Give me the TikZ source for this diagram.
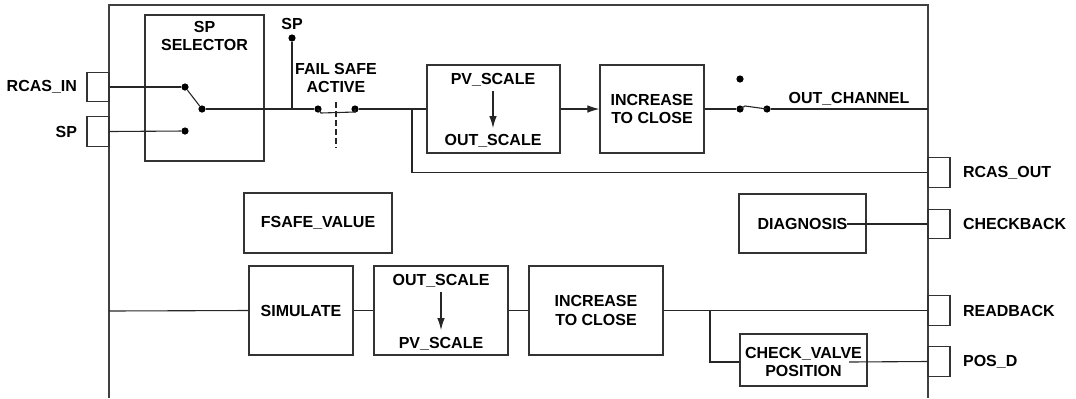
\documentclass[tikz,border=0pt]{standalone}
\usepackage{fontspec}
\setmainfont{Liberation Sans}
\usetikzlibrary{arrows.meta}
\begin{document}
\begin{tikzpicture}[x=0.5pt, y=-0.5pt, font=\fontsize{8}{9.2}\selectfont\bfseries,
	blk/.style={draw=black!80, line width=0.6pt, inner sep=0pt},
	port/.style={draw=black!80, line width=0.6pt, inner sep=0pt, minimum width=11pt, minimum height=14.75pt},
	dot/.style={circle, fill, inner sep=0pt, minimum size=3.6pt},
	wire/.style={draw=black!85, line width=0.55pt},
	tip/.style={-{Latex[length=6pt,width=3.8pt]}}]
	\useasboundingbox (0,0) rectangle (1076,398);
	% block frame
	\draw [black!75, line width=0.6pt] (109,398) -- (109,5) -- (928,5) -- (928,398);
	% ports
	\node[port] (rcasin) at (98,87) {};
	\node[port] (spin) at (98,131.5) {};
	\node[port] (rcasout) at (939,172.5) {};
	\node[port] (chkback) at (939,224) {};
	\node[port] (readback) at (939,310.5) {};
	\node[port] (posd) at (939,361.5) {};
	% boxes
	\node[blk, minimum width=59.5pt, minimum height=73pt] (spsel) at (204.5,88) {};
	\node[blk, minimum width=66.5pt, minimum height=44pt] (pvscale) at (493.5,109) {};
	\node[blk, minimum width=52pt, minimum height=44pt, align=center] (incup) at (652,109) {INCREASE\\TO CLOSE};
	\node[blk, minimum width=74pt, minimum height=30pt] (fsafe) at (318,223) {FSAFE\_VALUE};
	\node[blk, minimum width=63.5pt, minimum height=29.5pt] (diag) at (802.5,223.5) {};
	\node[blk, minimum width=52pt, minimum height=44.5pt] (sim) at (301,310.5) {SIMULATE};
	\node[blk, minimum width=67pt, minimum height=44.5pt] (outscale) at (441,310.5) {};
	\node[blk, minimum width=67pt, minimum height=44.5pt, align=center] (inclow) at (596,310.5) {INCREASE\\TO CLOSE};
	\node[blk, minimum width=63.5pt, minimum height=26pt] (chkvalve) at (803.5,360) {};
	% dots
	\node[dot] (selrcas) at (185,87) {};
	\node[dot] (selsp) at (185,131) {};
	\node[dot] (selout) at (202,109) {};
	\node[dot] (sptop) at (292,38) {};
	\node[dot] (fsa) at (318,109) {};
	\node[dot] (fsb) at (355,109) {};
	\node[dot] (swtop) at (740,79) {};
	\node[dot] (swa) at (740,109) {};
	\node[dot] (swb) at (767,109) {};
	\coordinate (spjoin) at (292,109);
	\coordinate (rcasbr) at (412,109);
	\coordinate (simin) at (109,311);
	\coordinate (posbr) at (710,311);
	\coordinate (diagout) at (847,224);
	\coordinate (cvout) at (849,362);
	% lines
	\draw [wire] (rcasin.east) -- (selrcas);
	\draw [wire] (spin.east) -- (selsp);
	\draw [wire] (selrcas) -- (selout);
	\draw [wire] (selout) -- (fsa);
	\draw [wire] (sptop) -- (spjoin);
	\draw [wire] (fsa.center) -- ++(3,4) -- (355,112) -- (fsb.center);
	\draw [wire, dashed, dash pattern=on 3pt off 1.5pt] (336,102) -- (336,148);
	\draw [wire] (fsb) -- (pvscale.west);
	\draw [wire] (rcasbr) |- (rcasout.west);
	\draw [wire, tip] (pvscale.east) -- (incup.west);
	\draw [wire] (incup.east) -- (swa);
	\draw [wire] (swa.center) -- ++(5,-3) -- (swb.center);
	\draw [wire] (swb) -- (928,109);
	\draw [wire] (diagout) -- (chkback.west);
	\draw [wire] (simin) -- (sim.west);
	\draw [wire] (sim.east) -- (outscale.west);
	\draw [wire] (outscale.east) -- (inclow.west);
	\draw [wire] (inclow.east) -- (readback.west);
	\draw [wire] (posbr) |- (chkvalve.west |- cvout);
	\draw [wire] (cvout) -- (posd.west);
	% arrows
	\draw [wire, tip] (493,91) -- (493,128);
	\draw [wire, tip] (441,292) -- (441,330);
	% labels
	\node[align=center] at (204.5,36) {SP\\SELECTOR};
	\node at (292,24) {SP};
	\node[align=center] at (336,78) {FAIL SAFE\\ACTIVE};
	\node at (493,80) {PV\_SCALE};
	\node at (493,141) {OUT\_SCALE};
	\node at (849,99) {OUT\_CHANNEL};
	\node at (802.5,224) {DIAGNOSIS};
	\node at (441,281) {OUT\_SCALE};
	\node at (441,344) {PV\_SCALE};
	\node[align=center] at (803.5,362) {CHECK\_VALVE\\POSITION};
	\node[anchor=east] at (84,87) {RCAS\_IN};
	\node[anchor=east] at (84,131.5) {SP};
	\node[anchor=west] at (956,172.5) {RCAS\_OUT};
	\node[anchor=west] at (956,224) {CHECKBACK};
	\node[anchor=west] at (956,310.5) {READBACK};
	\node[anchor=west] at (956,361.5) {POS\_D};
\end{tikzpicture}
\end{document}
